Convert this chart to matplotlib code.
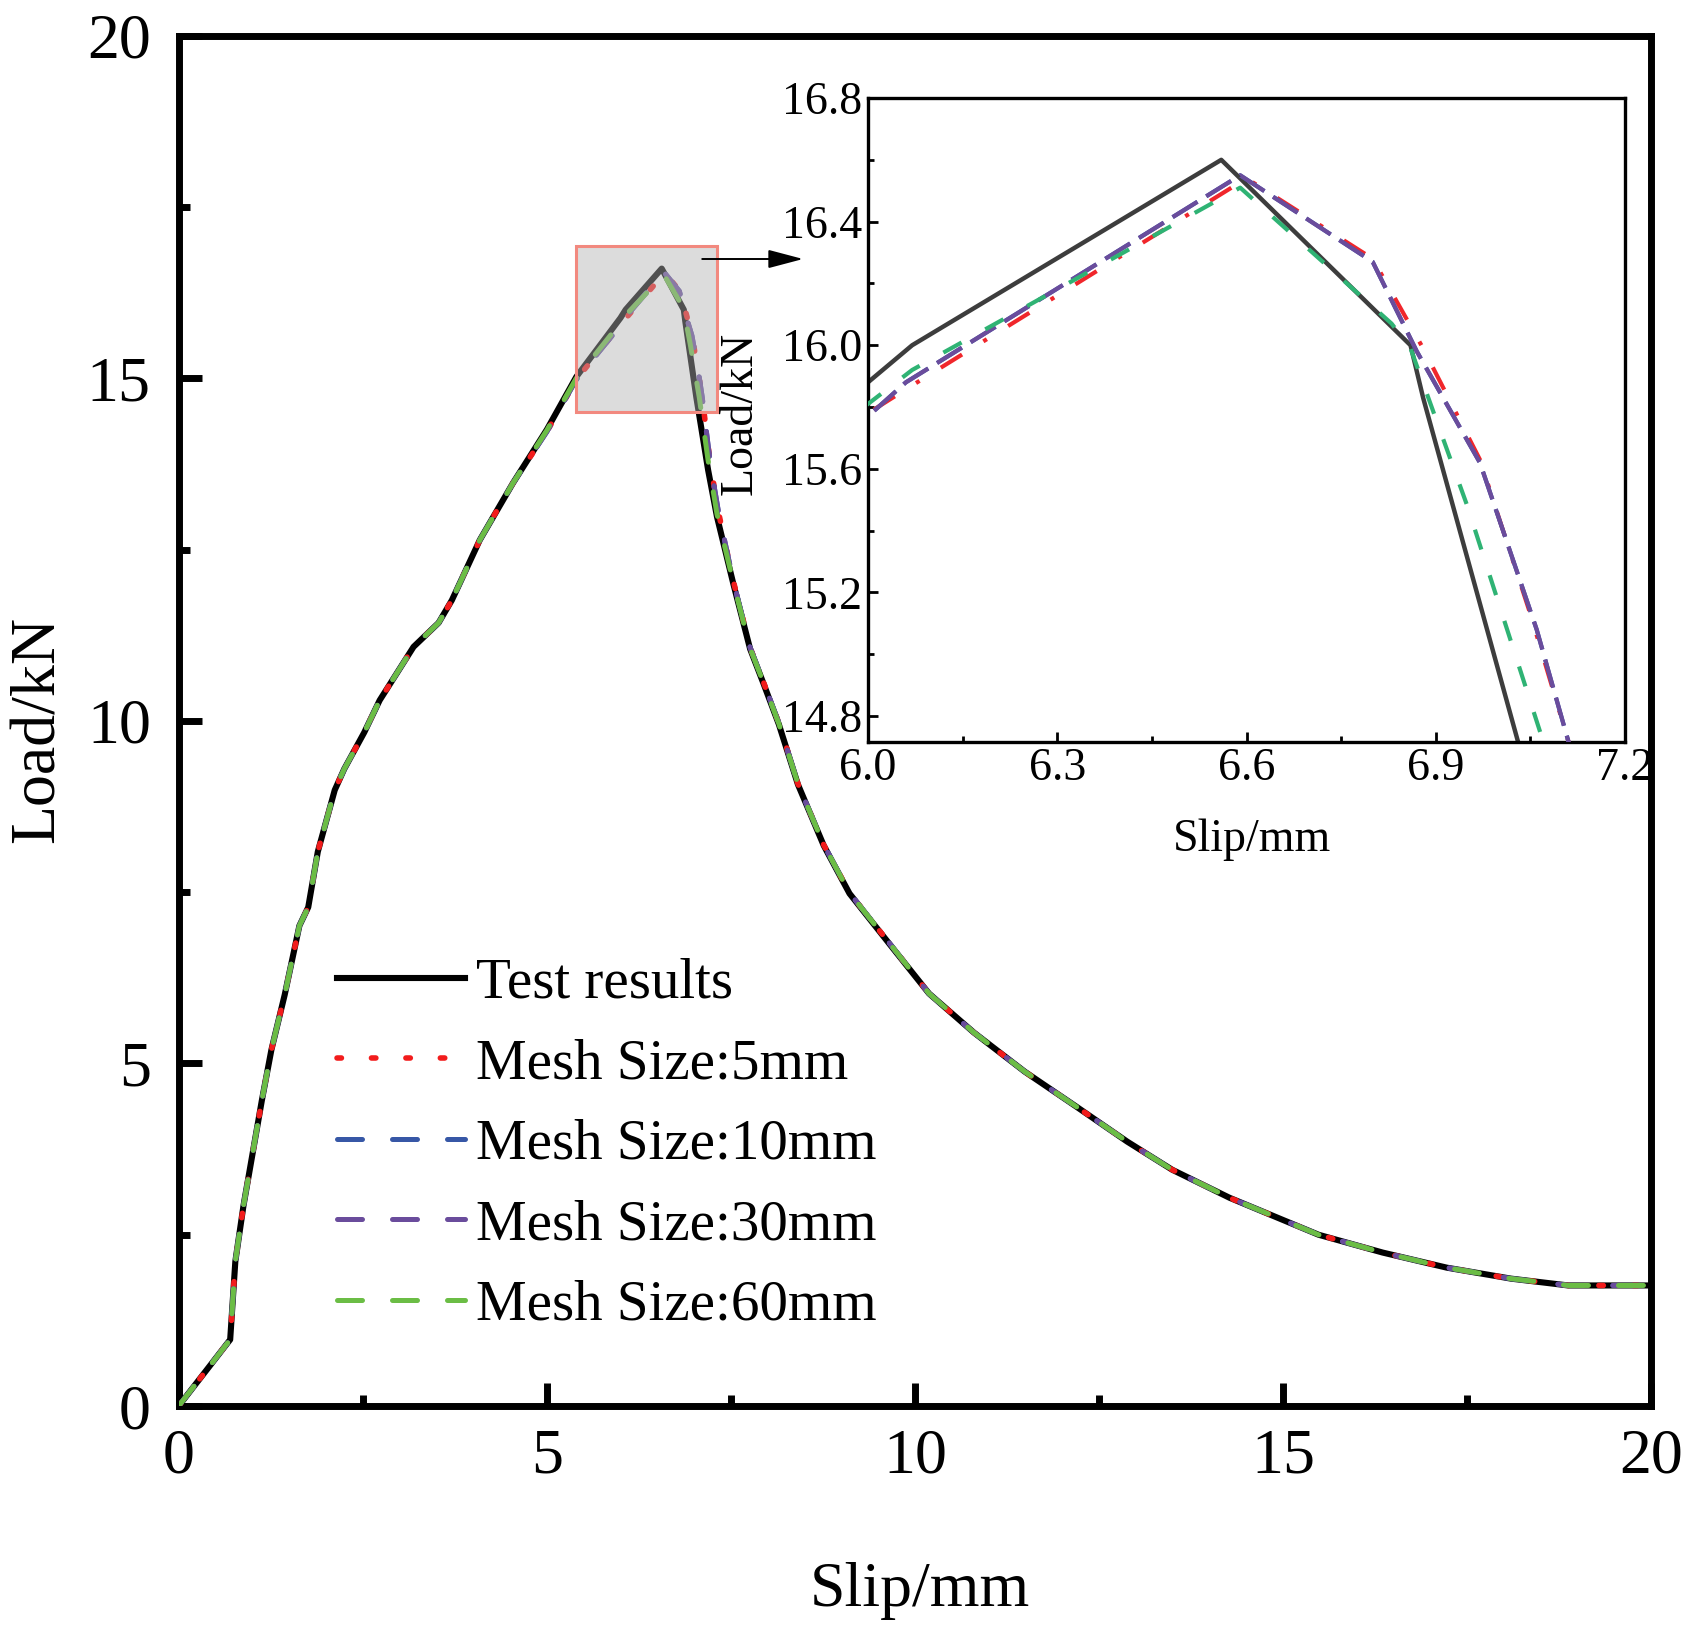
import matplotlib
matplotlib.use('Agg')
import matplotlib.pyplot as plt
from matplotlib.patches import Rectangle
from matplotlib.ticker import MultipleLocator, FormatStrFormatter

plt.rcParams['font.family'] = ['Liberation Serif', 'DejaVu Serif']

### Data (Slip/mm, Load/kN)
test_x = [0.0, 0.70, 0.77, 0.88, 1.13, 1.26, 1.44, 1.64, 1.76, 1.89, 2.12, 2.25, 2.52, 2.73,
          3.19, 3.53, 3.71, 3.84, 4.09, 4.54, 5.00, 5.40, 6.00, 6.07, 6.56, 6.86, 6.88, 7.03,
          7.19, 7.31, 7.53, 7.76, 7.94, 8.15, 8.41, 8.76, 9.11, 9.67, 10.19, 10.80, 11.49,
          12.19, 12.88, 13.49, 14.27, 15.48, 16.35, 17.22, 18.09, 18.87, 20.0]
test_y = [0.0, 0.97, 2.11, 2.92, 4.46, 5.20, 6.00, 7.01, 7.28, 8.09, 8.99, 9.30, 9.83, 10.30,
          11.08, 11.43, 11.76, 12.06, 12.64, 13.47, 14.25, 15.02, 15.88, 16.00, 16.60, 16.00, 15.83, 14.72,
          13.66, 12.98, 12.01, 11.05, 10.55, 9.95, 9.07, 8.18, 7.48, 6.72, 6.02, 5.45, 4.88,
          4.37, 3.86, 3.45, 3.04, 2.50, 2.24, 2.02, 1.86, 1.76, 1.76]

mesh5_x = [0.0, 0.70, 0.77, 0.88, 1.13, 1.26, 1.44, 1.64, 1.76, 1.89, 2.12, 2.25, 2.52, 2.73,
           3.19, 3.53, 3.71, 3.84, 4.09, 4.54, 5.00, 5.40, 6.00, 6.07, 6.60, 6.80, 6.88, 6.97, 7.05, 7.11,
           7.22, 7.33, 7.53, 7.76, 7.94, 8.15, 8.41, 8.76, 9.11, 9.67, 10.19, 10.80, 11.49,
           12.19, 12.88, 13.49, 14.27, 15.48, 16.35, 17.22, 18.09, 18.87, 20.0]
mesh5_y = [0.0, 0.97, 2.11, 2.92, 4.46, 5.20, 6.00, 7.01, 7.28, 8.09, 8.99, 9.30, 9.83, 10.30,
           11.08, 11.43, 11.76, 12.06, 12.64, 13.47, 14.22, 14.98, 15.78, 15.87, 16.54, 16.28, 15.99, 15.63, 15.13, 14.72,
           13.75, 13.05, 12.05, 11.07, 10.57, 9.97, 9.08, 8.19, 7.49, 6.73, 6.02, 5.45, 4.88,
           4.37, 3.86, 3.45, 3.04, 2.50, 2.24, 2.02, 1.86, 1.76, 1.76]

mesh10_x = [0.0, 0.70, 0.77, 0.88, 1.13, 1.26, 1.44, 1.64, 1.76, 1.89, 2.12, 2.25, 2.52, 2.73,
            3.19, 3.53, 3.71, 3.84, 4.09, 4.54, 5.00, 5.40, 6.00, 6.06, 6.59, 6.80, 6.87, 6.97, 7.06, 7.11,
            7.22, 7.33, 7.53, 7.76, 7.94, 8.15, 8.41, 8.76, 9.11, 9.67, 10.19, 10.80, 11.49,
            12.19, 12.88, 13.49, 14.27, 15.48, 16.35, 17.22, 18.09, 18.87, 20.0]
mesh10_y = [0.0, 0.97, 2.11, 2.92, 4.46, 5.20, 6.00, 7.01, 7.28, 8.09, 8.99, 9.30, 9.83, 10.30,
            11.08, 11.43, 11.76, 12.06, 12.64, 13.47, 14.22, 14.98, 15.77, 15.88, 16.55, 16.27, 15.98, 15.62, 15.08, 14.72,
            13.75, 13.05, 12.05, 11.07, 10.57, 9.97, 9.08, 8.19, 7.49, 6.73, 6.02, 5.45, 4.88,
            4.37, 3.86, 3.45, 3.04, 2.50, 2.24, 2.02, 1.86, 1.76, 1.76]

mesh30_x = [0.0, 0.70, 0.77, 0.88, 1.13, 1.26, 1.44, 1.64, 1.76, 1.89, 2.12, 2.25, 2.52, 2.73,
            3.19, 3.53, 3.71, 3.84, 4.09, 4.54, 5.00, 5.40, 6.00, 6.06, 6.59, 6.80, 6.87, 6.97, 7.06, 7.11,
            7.22, 7.33, 7.53, 7.76, 7.94, 8.15, 8.41, 8.76, 9.11, 9.67, 10.19, 10.80, 11.49,
            12.19, 12.88, 13.49, 14.27, 15.48, 16.35, 17.22, 18.09, 18.87, 20.0]
mesh30_y = [0.0, 0.97, 2.11, 2.92, 4.46, 5.20, 6.00, 7.01, 7.28, 8.09, 8.99, 9.30, 9.83, 10.30,
            11.08, 11.43, 11.76, 12.06, 12.64, 13.47, 14.22, 14.98, 15.77, 15.88, 16.55, 16.27, 15.98, 15.62, 15.08, 14.72,
            13.75, 13.05, 12.05, 11.07, 10.57, 9.97, 9.08, 8.19, 7.49, 6.73, 6.02, 5.45, 4.88,
            4.37, 3.86, 3.45, 3.04, 2.50, 2.24, 2.02, 1.86, 1.76, 1.76]

mesh60_x = [0.0, 0.70, 0.77, 0.88, 1.13, 1.26, 1.44, 1.64, 1.76, 1.89, 2.12, 2.25, 2.52, 2.73,
            3.19, 3.53, 3.71, 3.84, 4.09, 4.54, 5.00, 5.40, 6.00, 6.07, 6.59, 6.83, 6.86, 6.95, 7.07,
            7.19, 7.31, 7.53, 7.76, 7.94, 8.15, 8.41, 8.76, 9.11, 9.67, 10.19, 10.80, 11.49,
            12.19, 12.88, 13.49, 14.27, 15.48, 16.35, 17.22, 18.09, 18.87, 20.0]
mesh60_y = [0.0, 0.97, 2.11, 2.92, 4.46, 5.20, 6.00, 7.01, 7.28, 8.09, 8.99, 9.30, 9.83, 10.30,
            11.08, 11.43, 11.76, 12.06, 12.64, 13.47, 14.24, 15.00, 15.81, 15.92, 16.51, 16.07, 15.99, 15.48, 14.72,
            13.80, 13.02, 12.03, 11.06, 10.56, 9.96, 9.08, 8.19, 7.49, 6.73, 6.02, 5.45, 4.88,
            4.37, 3.86, 3.45, 3.04, 2.50, 2.24, 2.02, 1.86, 1.76, 1.76]

labels = ['Test results', 'Mesh Size:5mm', 'Mesh Size:10mm', 'Mesh Size:30mm', 'Mesh Size:60mm']
inset_yticks = [14.8, 15.2, 15.6, 16.0, 16.4, 16.8]
inset_xticks = [6.0, 6.3, 6.6, 6.9, 7.2]

fig = plt.figure(figsize=(16.98, 16.34), dpi=100)

### Main axes
ax = fig.add_axes([0.1052, 0.1395, 0.8674, 0.8387])
ax.plot(test_x, test_y, color='black', lw=4.4, solid_joinstyle='round', zorder=2, label=labels[0])
ax.plot(mesh5_x, mesh5_y, color='#f21c1c', lw=4.0, dashes=(0.8, 5.4), dash_capstyle='round',
        zorder=3, label=labels[1])
ax.plot(mesh10_x, mesh10_y, color='#3757a6', lw=3.6, dashes=(5, 6), dash_capstyle='round',
        zorder=3.1, label=labels[2])
ax.plot(mesh30_x, mesh30_y, color='#6a4c9c', lw=3.6, dashes=(5, 6), dash_capstyle='round',
        zorder=3.2, label=labels[3])
ax.plot(mesh60_x, mesh60_y, color='#6bbd45', lw=3.6, dashes=(5, 6), dash_capstyle='round',
        zorder=3.3, label=labels[4])

ax.set_xlim(0, 20)
ax.set_ylim(0, 20)
ax.xaxis.set_major_locator(MultipleLocator(5))
ax.xaxis.set_minor_locator(MultipleLocator(2.5))
ax.yaxis.set_major_locator(MultipleLocator(5))
ax.yaxis.set_minor_locator(MultipleLocator(2.5))
ax.tick_params(which='both', direction='in', width=5, labelsize=46)
ax.tick_params(which='major', length=16.5)
ax.tick_params(which='minor', length=8)
ax.tick_params(axis='x', pad=16)
ax.tick_params(axis='y', pad=20)
for s in ax.spines.values():
    s.set_linewidth(5)

ax.set_xlabel('Slip/mm', fontsize=46)
ax.set_ylabel('Load/kN', fontsize=46)
ax.xaxis.set_label_coords(0.503, -0.114)
ax.yaxis.set_label_coords(-0.0755, 0.494)

# zoom window + arrow to the inset
ax.add_patch(Rectangle((5.39, 14.50), 1.92, 2.435, facecolor=(0.70, 0.70, 0.70, 0.45),
                       edgecolor='#f2897f', lw=2.2, zorder=5))
ax.annotate('', xy=(8.48, 16.74), xytext=(7.11, 16.74),
            arrowprops=dict(arrowstyle='-|>,head_length=0.72,head_width=0.19', mutation_scale=30,
                            lw=1.4, color='black', shrinkA=0, shrinkB=0), zorder=6)

leg = ax.legend(loc='upper left', bbox_to_anchor=(0.1075, 0.327), frameon=False, fontsize=41,
                handlelength=2.25, handletextpad=0.2, labelspacing=0.5, borderpad=0,
                borderaxespad=0)

### Inset axes
axi = fig.add_axes([0.5112, 0.5459, 0.4458, 0.3941])
axi.plot(test_x, test_y, color='#3d3d3d', lw=3.2, zorder=2)
axi.plot(mesh5_x, mesh5_y, color='#f0262b', lw=3.0, dashes=(6, 6, 1, 6), zorder=3)
axi.plot(mesh10_x, mesh10_y, color='#3757a6', lw=3.0, dashes=(7, 2.5), zorder=3.1)
axi.plot(mesh30_x, mesh30_y, color='#6a4c9c', lw=3.0, dashes=(7, 2.5), zorder=3.2)
axi.plot(mesh60_x, mesh60_y, color='#2fb374', lw=3.0, dashes=(5, 6.5), zorder=3.3)

axi.set_xlim(6.0, 7.2)
axi.set_ylim(14.716, 16.8)
axi.set_xticks(inset_xticks)
axi.set_yticks(inset_yticks)
axi.xaxis.set_minor_locator(MultipleLocator(0.15))
axi.yaxis.set_minor_locator(MultipleLocator(0.2))
axi.xaxis.set_major_formatter(FormatStrFormatter('%.1f'))
axi.yaxis.set_major_formatter(FormatStrFormatter('%.1f'))
axi.tick_params(which='both', direction='in', width=2, labelsize=33, pad=4)
axi.tick_params(which='major', length=7)
axi.tick_params(which='minor', length=4)
for s in axi.spines.values():
    s.set_linewidth(2.4)
axi.set_xlabel('Slip/mm', fontsize=33)
axi.set_ylabel('Load/kN', fontsize=33)
axi.xaxis.set_label_coords(0.507, -0.119)
axi.yaxis.set_label_coords(-0.14, 0.51)

fig.savefig('out.png', dpi=100)
